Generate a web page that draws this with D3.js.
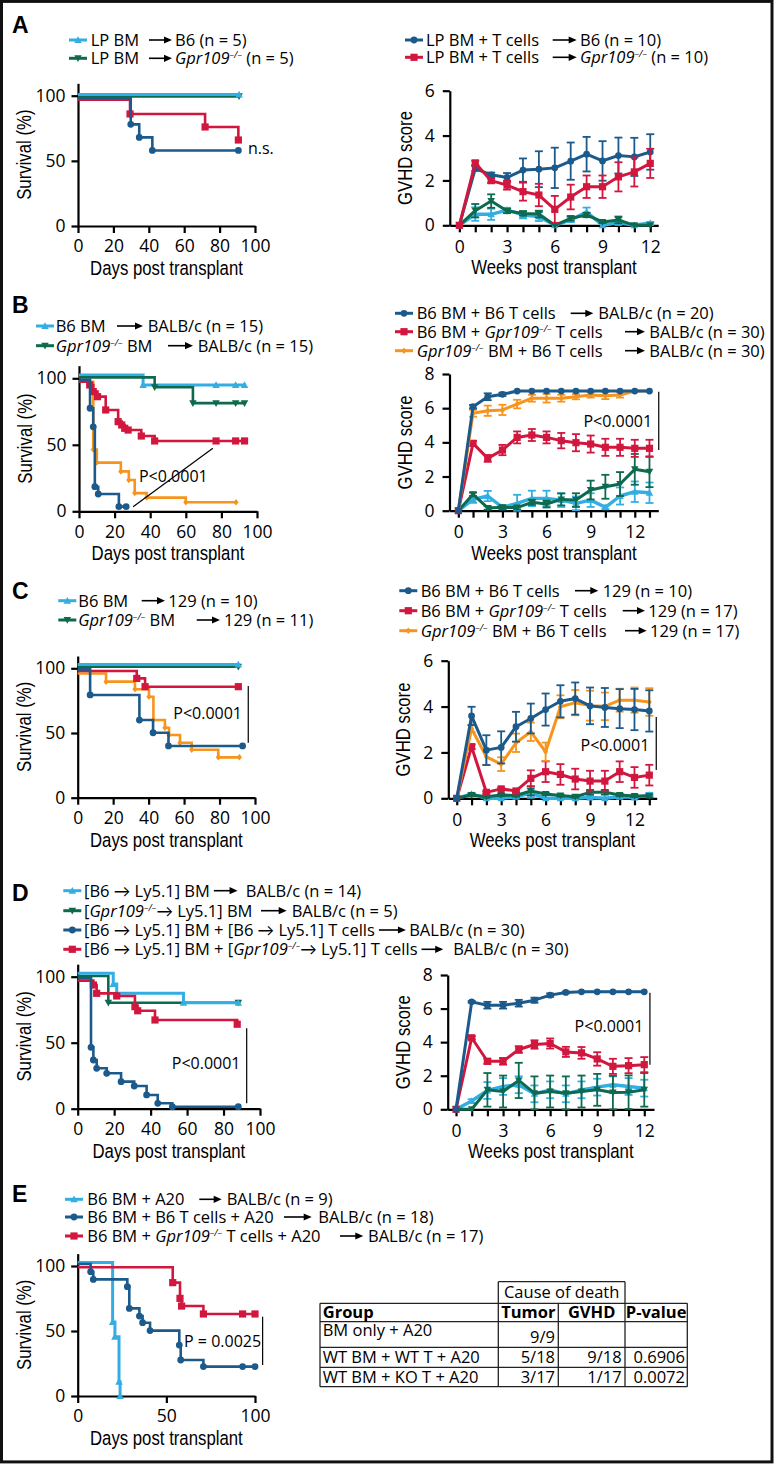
<!DOCTYPE html>
<html><head><meta charset="utf-8">
<script src="https://cdn.jsdelivr.net/npm/d3@7"></script>
<style>
html,body{margin:0;padding:0;background:#fff;}
</style></head><body>
<svg id="fig" width="778" height="1465"></svg>
<script>
// ---------------- DATA ----------------
// Kaplan-Meier curves: [day, survival %] step points (as drawn)
const A_km_lb = [[0,101],[91,101]];
const A_km_gr = [[0,99.5],[91,99.5]];
const A_km_bl = [[0,98],[29.8,78],[34.6,68],[42,58],[90.6,58]];
const A_km_rd = [[0,97],[29.4,86],[71.8,76],[90.6,66]];

const B_km_lb = [[0,102.5],[36,95],[77,95],[88,95],[93,95]];
const B_km_gr = [[0,100.7],[42.5,93.3],[64,81.3],[77,81.3],[88,81.3],[93,81.3]];
const B_km_rd = [[0,97.4],[6,95],[8,90],[10.4,86.2],[15,76.2],[22,67.4],[24,64.9],[25.7,62.4],[27.6,61.1],[35,56.6],[42.5,52.9],[77,52.9],[88,52.9],[93,52.9]];
const B_km_or = [[0,97.4],[8,46.5],[10,36.6],[23.5,30],[28,23.5],[31.3,13.7],[38,10.3],[60,6.8],[88.2,6.8]];
const B_km_bl = [[0,98.8],[6.2,77.5],[8,63.5],[8.9,18.5],[10.8,13],[22.4,3.5],[26.5,3.5]];

const C_km_lb = [[0,103],[90.6,103]];
const C_km_gr = [[0,101.2],[90.6,101.2]];
const C_km_rd = [[0,97.9],[33.3,92.2],[38,85.8],[90.6,85.8]];
const C_km_or = [[0,96],[16,89.7],[32.3,83.8],[40.2,78],[42.7,60],[49.2,54],[51.5,48.5],[57.7,42.5],[64.3,37],[79.3,31.2],[91.2,31.2]];
const C_km_bl = [[0,99.2],[7,79.4],[34.8,60],[42.5,50.2],[51.2,40],[93,40]];

const D_km_lb = [[0,102.6],[19.5,94.5],[21.4,87.4],[58,80.3],[88.1,80.3]];
const D_km_gr = [[0,100.5],[16.8,80.3],[88.1,80.3]];
const D_km_rd = [[0,97],[8.6,93.7],[10.4,87.4],[21.4,85.4],[31.4,77.3],[32.9,74.2],[42.4,67.2],[87.5,64]];
const D_km_bl = [[0,98.8],[7.3,46.5],[8.6,36.9],[10.4,30.6],[15.9,26.8],[23.8,20.5],[31,17.2],[37.8,10.4],[43.9,4.1],[51.9,1.5],[88.1,1.5]];

const E_km_lb = [[0,102.6],[19.7,57],[21,45.6],[23.3,11],[23.9,0]];
const E_km_bl = [[0,101.5],[7.3,95.6],[8.8,89.7],[28,84.1],[29.1,67.4],[34.8,61.5],[36.6,56.4],[40.8,50.3],[57.3,39.2],[58.1,27.7],[70.9,22.6],[93,22.6],[100,22.6]];
const E_km_rd = [[0,99],[53.6,87.2],[57.7,75.1],[58.6,69.2],[70.9,63.1],[93,63.1],[100,63.1]];

// GVHD score: weeks, mean and SEM per series
const weeks12 = [0,1,2,3,4,5,6,7,8,9,10,11,12];
const weeks13 = [0,1,2,3,4,5,6,7,8,9,10,11,12,13];

const A_g_bl_m = [0,2.53,2.25,2.13,2.46,2.5,2.56,2.86,3.17,2.87,3.11,3.05,3.27];
const A_g_bl_e = [0,0.1,0.1,0.2,0.52,0.8,0.9,0.83,0.77,0.88,0.8,0.85,0.79];
const A_g_rd_m = [0,2.78,1.99,1.79,1.5,1.35,0.71,1.26,1.72,1.72,2.16,2.38,2.76];
const A_g_rd_e = [0,0.1,0.1,0.2,0.4,0.5,0.6,0.55,0.5,0.5,0.65,0.65,0.65];
const A_g_gr_m = [0,0.65,1.08,0.64,0.53,0.5,0,0.31,0.46,0.15,0.24,0,0];
const A_g_gr_e = [0,0.3,0.3,0.1,0.1,0.15,0,0.1,0.1,0.05,0.15,0,0];
const A_g_lb_m = [0,0.5,0.49,0.68,0.46,0.39,0,0.24,0.59,0,0.12,0,0.1];
const A_g_lb_e = [0,0.3,0.25,0.1,0.15,0.2,0,0.1,0.2,0,0.1,0,0.05];

const B_g_bl_m = [0,6.09,6.67,6.81,7,7,7,7,7,7,7,7,7,7];
const B_g_bl_e = [0,0.1,0.2,0.1,0,0,0,0,0,0,0,0,0,0];
const B_g_or_m = [0,5.7,5.85,5.9,6.24,6.58,6.58,6.58,6.67,6.77,6.73,6.77,7,7];
const B_g_or_e = [0,0.2,0.3,0.3,0.25,0.2,0.25,0.2,0.15,0.15,0.2,0.15,0,0];
const B_g_rd_m = [0,3.94,3.06,3.55,4.29,4.43,4.29,4.1,3.98,3.9,3.71,3.71,3.65,3.65];
const B_g_rd_e = [0,0.15,0.2,0.3,0.35,0.35,0.35,0.45,0.5,0.5,0.5,0.5,0.5,0.5];
const B_g_gr_m = [0,0.96,0.16,0.2,0.18,0.49,0.39,0.66,0.62,1.21,1.4,1.56,2.42,2.28];
const B_g_gr_e = [0,0.1,0.1,0.1,0.1,0.15,0.2,0.35,0.4,0.55,0.7,0.7,0.9,0.9];
const B_g_lb_m = [0,0.66,0.86,0.2,0.43,0.72,0.72,0.62,0.43,0.62,0.2,0.86,1.11,1.05];
const B_g_lb_e = [0,0.2,0.3,0.1,0.5,0.45,0.45,0.4,0.4,0.4,0.1,0.5,0.6,0.6];

const C_g_bl_m = [0,3.59,2.1,2.22,3.12,3.48,3.87,4.23,4.35,4.03,3.96,3.91,3.87,3.81];
const C_g_bl_e = [0,0.4,0.65,0.7,0.65,0.65,0.7,0.7,0.7,0.8,0.85,0.85,0.9,0.9];
const C_g_or_m = [0,3.04,1.81,1.49,2.42,2.9,2.03,3.99,4.17,4.04,4.01,4.28,4.28,4.2];
const C_g_or_e = [0,0.15,0.35,0.3,0.4,0.4,0.4,0.5,0.55,0.65,0.6,0.5,0.55,0.6];
const C_g_rd_m = [0,2.25,0.26,0.41,0.32,0.87,1.16,1.04,0.84,0.75,0.75,1.16,0.91,1.01];
const C_g_rd_e = [0,0.1,0.05,0.05,0.05,0.35,0.45,0.45,0.45,0.45,0.45,0.45,0.45,0.45];
const C_g_gr_m = [0,0.14,0.07,0.14,0.12,0.32,0.19,0.12,0.07,0.26,0.26,0.14,0.1,0.1];
const C_g_gr_e = [0,0.05,0.05,0.05,0.05,0.2,0.05,0.05,0.05,0.1,0.1,0.05,0.05,0.05];
const C_g_lb_m = [0,0.19,0,0,0.07,0.22,0,0,0,0.04,0,0.07,0.04,0.14];
const C_g_lb_e = [0,0.05,0,0,0.05,0.2,0,0,0,0.05,0,0.05,0.05,0.1];

const D_g_bl_m = [0,6.4,6.2,6.2,6.32,6.5,6.8,6.96,7,7,7,7,7];
const D_g_bl_e = [0,0.05,0.2,0.2,0.2,0.15,0.1,0.05,0,0,0,0,0];
const D_g_rd_m = [0,4.26,2.86,2.86,3.56,3.86,3.92,3.42,3.36,3.0,2.56,2.6,2.66];
const D_g_rd_e = [0,0.1,0.15,0.2,0.2,0.25,0.3,0.3,0.35,0.4,0.45,0.45,0.45];
const D_g_gr_m = [0,0,1.16,1.06,1.72,0.96,1.06,0.96,1.06,1.16,1.0,1.02,1.16];
const D_g_gr_e = [0,0,1.0,0.95,1.05,1.0,0.95,1.0,0.95,0.95,1.0,1.0,1.0];
const D_g_lb_m = [0,0.5,1.12,1.36,1.46,0.92,1.16,0.92,1.16,1.32,1.46,1.36,1.26];
const D_g_lb_e = [0,0.1,0.5,0.5,0.5,0.5,0.5,0.5,0.5,0.5,0.5,0.5,0.5];

// tick labels
const kmXTicks = [0,20,40,60,80,100];
const kmXTicksE = [0,50,100];
const kmYTicks = [0,50,100];
const gvYTicks6 = [0,2,4,6];
const gvYTicks8 = [0,2,4,6,8];

// legend labels ({G} = italic Gpr109 with -/- superscript)
const legA1 = [["LP BM","B6 (n = 5)"],["LP BM","{G} (n = 5)"]];
const legA2 = [["LP BM + T cells","B6 (n = 10)"],["LP BM + T cells","{G} (n = 10)"]];
const legB1 = [["B6 BM","BALB/c (n = 15)"],["{G} BM","BALB/c (n = 15)"]];
const legB2 = [["B6 BM + B6 T cells","BALB/c (n = 20)"],["B6 BM + {G} T cells","BALB/c (n = 30)"],["{G} BM + B6 T cells","BALB/c (n = 30)"]];
const legC1 = [["B6 BM","129 (n = 10)"],["{G} BM","129 (n = 11)"]];
const legC2 = [["B6 BM + B6 T cells","129 (n = 10)"],["B6 BM + {G} T cells","129 (n = 17)"],["{G} BM + B6 T cells","129 (n = 17)"]];
const legD = [["[B6 \u2192 Ly5.1] BM","BALB/c (n = 14)"],["[{G}\u2192 Ly5.1] BM","BALB/c (n = 5)"],["[B6 \u2192 Ly5.1] BM + [B6 \u2192 Ly5.1] T cells","BALB/c (n = 30)"],["[B6 \u2192 Ly5.1] BM + [{G}\u2192 Ly5.1] T cells","BALB/c (n = 30)"]];
const legE = [["B6 BM + A20","BALB/c (n = 9)"],["B6 BM + B6 T cells + A20","BALB/c (n = 18)"],["B6 BM + {G} T cells + A20","BALB/c (n = 17)"]];

// table
const tblHeader = ["Group","Tumor","GVHD","P-value"];
const tblGroups = ["BM only + A20","WT BM + WT T + A20","WT BM + KO T + A20"];
const tblTumor = ["9/9","5/18","3/17"];
const tblGvhd = ["","9/18","1/17"];
const tblP = ["","0.6906","0.0072"];

// ---------------- STYLE ----------------
const FONT = "'Open Sans', Lato, sans-serif";
const TFONT = "'Liberation Sans', Arial, sans-serif";
const COL = {lb:"#33aee3", gr:"#0e6a4e", bl:"#1c5a8b", rd:"#d2173f", or:"#f7941d"};
const SYM = {lb:"tri", gr:"triDown", bl:"circle", rd:"square", or:"diamond"};
const svg = d3.select("#fig");

function symPath(kind, s){
  const h = s/2;
  switch(kind){
    case "circle": return d3.symbol(d3.symbolCircle, Math.PI*h*h)();
    case "square": return `M${-h},${-h}h${s}v${s}h${-s}Z`;
    case "tri": return `M0,${-h}L${h},${h*0.8}L${-h},${h*0.8}Z`;
    case "triDown": return `M0,${h}L${h},${-h*0.8}L${-h},${-h*0.8}Z`;
    case "diamond": return `M0,${-h}L${h*0.8},0L0,${h}L${-h*0.8},0Z`;
  }
}
const SYMSIZE = {circle:6.8, square:7.2, tri:7.5, triDown:7.5, diamond:6.5};

function rich(sel, str){
  if(str.indexOf("{G}")<0){ sel.text(str); return; }
  const parts = str.split("{G}");
  parts.forEach((p,i)=>{
    if(i>0){
      sel.append("tspan").attr("font-style","italic").text("Gpr109");
      sel.append("tspan").attr("font-style","italic").attr("font-size","9.5px").attr("dy",-6).text("\u2013/\u2013");
      if(p.length) sel.append("tspan").attr("dy",6).text(p);
    } else if(p.length){ sel.append("tspan").text(p); }
  });
}

function styleAxis(g, fs){
  g.attr("font-family",FONT).attr("font-size",fs);
  g.select(".domain").attr("stroke","#000").attr("stroke-width",2.2);
  g.selectAll(".tick line").attr("stroke","#000").attr("stroke-width",2.2);
  g.selectAll(".tick text").attr("fill","#000");
}

// condensed axis titles (horizontal squeeze of the face)
function titles(xMid, yBase, xText, yAxisX, yMid, yText, yOff){
  svg.append("text").attr("transform",`translate(${xMid},${yBase+49}) scale(0.86,1)`).attr("text-anchor","middle")
    .attr("font-family",TFONT).attr("font-size",19.5).text(xText);
  svg.append("text").attr("transform",`translate(${yAxisX-yOff},${yMid}) rotate(-90) scale(0.86,1)`).attr("text-anchor","middle")
    .attr("font-family",TFONT).attr("font-size",19.5).text(yText);
}

function km(cfg){
  const x = d3.scaleLinear().domain([0,100]).range([cfg.x0,cfg.x1]);
  const k = (cfg.yBase-cfg.y100)/100;
  const y = d3.scaleLinear().domain([0,109.5]).range([cfg.yBase,cfg.yBase-109.5*k]);
  const g = svg.append("g");
  const xa = g.append("g").attr("transform",`translate(0,${cfg.yBase})`)
    .call(d3.axisBottom(x).tickValues(cfg.xTicks).tickFormat(d3.format("d")).tickSize(7).tickPadding(7).tickSizeOuter(0));
  styleAxis(xa,17.5);
  const ya = g.append("g").attr("transform",`translate(${cfg.x0},0)`)
    .call(d3.axisLeft(y).tickValues(kmYTicks).tickFormat(d3.format("d")).tickSize(6.5).tickPadding(6).tickSizeOuter(0));
  styleAxis(ya,17.5);
  const line = d3.line().x(d=>x(d[0])).y(d=>y(d[1])).curve(d3.curveStepAfter);
  cfg.series.forEach(s=>{
    g.append("path").datum(s.d).attr("d",line).attr("fill","none")
      .attr("stroke",COL[s.k]).attr("stroke-width",s.k==="lb"?3:2.6);
    g.selectAll(null).data(s.d.slice(1)).join("path")
      .attr("transform",d=>`translate(${x(d[0])},${y(d[1])})`)
      .attr("d",symPath(SYM[s.k],SYMSIZE[SYM[s.k]])).attr("fill",COL[s.k]);
  });
  titles((cfg.x0+cfg.x1)/2, cfg.yBase, "Days post transplant", cfg.x0, (cfg.yBase+y(109.5))/2, "Survival (%)", 47);
  return {x,y,g};
}

function gv(cfg){
  const x = d3.scaleLinear().domain(cfg.xDom).range(cfg.xRange);
  const y = d3.scaleLinear().domain([0,cfg.yMax]).range([cfg.yBase,cfg.yTop]);
  const g = svg.append("g");
  const xa = g.append("g").attr("transform",`translate(0,${cfg.yBase})`)
    .call(d3.axisBottom(x).tickValues(cfg.weeks).tickFormat(d=>d%3===0?String(d):"").tickSize(7).tickPadding(8).tickSizeOuter(0));
  styleAxis(xa,17.5);
  xa.selectAll(".tick text").filter(d=>d%3!==0).remove();
  const ya = g.append("g").attr("transform",`translate(${cfg.xRange[0]},0)`)
    .call(d3.axisLeft(y).tickValues(cfg.yTicks).tickFormat(d3.format("d")).tickSize(7).tickPadding(8).tickSizeOuter(0));
  styleAxis(ya,17.5);
  const line = d3.line().x(d=>x(d.w)).y(d=>y(d.m));
  cfg.series.forEach(s=>{
    const c = COL[s.k];
    const pts = cfg.weeks.map((w,i)=>({w, m:s.m[i], e:s.e[i]}));
    const eb = g.append("g").attr("stroke",c).attr("stroke-width",1.8);
    pts.filter(p=>p.e>0).forEach(p=>{
      const lo = Math.max(0,p.m-p.e), hi = p.m+p.e;
      eb.append("line").attr("x1",x(p.w)).attr("x2",x(p.w)).attr("y1",y(lo)).attr("y2",y(hi));
      [lo,hi].forEach(v=>eb.append("line").attr("x1",x(p.w)-4).attr("x2",x(p.w)+4).attr("y1",y(v)).attr("y2",y(v)));
    });
    g.append("path").datum(pts).attr("d",line).attr("fill","none").attr("stroke",c)
      .attr("stroke-width",s.k==="lb"?3.4:3).attr("stroke-linejoin","round");
    g.selectAll(null).data(pts).join("path")
      .attr("transform",d=>`translate(${x(d.w)},${y(d.m)})`)
      .attr("d",symPath(SYM[s.k],SYMSIZE[SYM[s.k]])).attr("fill",c);
  });
  titles((cfg.xRange[0]+cfg.xRange[1])/2, cfg.yBase, "Weeks post transplant", cfg.xRange[0], (cfg.yBase+cfg.yTop)/2, "GVHD score", 38);
  return {x,y,g};
}

function arrow(x0,x1,y){
  svg.append("line").attr("x1",x0).attr("x2",x1-5).attr("y1",y).attr("y2",y).attr("stroke","#000").attr("stroke-width",1.6);
  svg.append("path").attr("d",`M${x1},${y}L${x1-8},${y-3.6}L${x1-8},${y+3.6}Z`).attr("fill","#000");
}

function legend(labels, keys, ys, mx, tx, arrows, rxs){
  labels.forEach((lab,i)=>{
    const y = ys[i], k = keys[i];
    svg.append("line").attr("x1",mx).attr("x2",mx+18).attr("y1",y).attr("y2",y).attr("stroke",COL[k]).attr("stroke-width",3);
    svg.append("path").attr("d",symPath(SYM[k],SYMSIZE[SYM[k]])).attr("transform",`translate(${mx+9},${y})`).attr("fill",COL[k]);
    const t = svg.append("text").attr("x",tx).attr("y",y).attr("dy","0.36em").attr("font-family",FONT).attr("font-size",16.5);
    rich(t, lab[0]);
    // keep the arrow clear of the text if the face runs longer than in the original
    const end = tx + t.node().getComputedTextLength();
    const shift = Math.max(0, end + 4 - arrows[i][0]);
    arrow(arrows[i][0]+shift, arrows[i][1]+shift, y);
    const t2 = svg.append("text").attr("x",rxs[i]+shift).attr("y",y).attr("dy","0.36em").attr("font-family",FONT).attr("font-size",16.5);
    rich(t2, lab[1]);
  });
}

function annot(ch, txt, tx, ty, anchor, line){
  svg.append("text").attr("x",ch.x(tx)).attr("y",ch.y(ty)).attr("dy","0.36em").attr("text-anchor",anchor)
    .attr("font-family",FONT).attr("font-size",16).text(txt);
  svg.append("line").attr("x1",ch.x(line[0])).attr("y1",ch.y(line[1])).attr("x2",ch.x(line[2])).attr("y2",ch.y(line[3]))
    .attr("stroke","#000").attr("stroke-width",1.2);
}

function panelLabel(t,x,y){
  svg.append("text").attr("x",x).attr("y",y).attr("font-family","'Liberation Sans',Arial,sans-serif")
    .attr("font-weight","bold").attr("font-size",23).text(t);
}

// ---------------- DRAW ----------------
svg.append("rect").attr("x",1.5).attr("y",1.4).attr("width",770.5).attr("height",1460.5)
  .attr("fill","none").attr("stroke","#111").attr("stroke-width",3);

// Panel A
panelLabel("A",12,33);
legend(legA1,["lb","gr"],[40,58.3],69,90.7,[[149,172],[149,172]],[175,175]);
legend(legA2,["bl","rd"],[40,57.3],405,426,[[552.7,576.7],[552.7,576.7]],[580,580]);
const kA = km({x0:78,x1:255,yBase:226,y100:95.7,xTicks:kmXTicks,series:[
  {k:"gr",d:A_km_gr},{k:"lb",d:A_km_lb},{k:"rd",d:A_km_rd},{k:"bl",d:A_km_bl}]});
svg.append("text").attr("x",kA.x(96)).attr("y",kA.y(59.6)).attr("dy","0.36em").attr("font-family",FONT).attr("font-size",16).text("n.s.");
gv({xDom:[-0.6,12.5],xRange:[449.8,658.2],yMax:6,yTicks:gvYTicks6,yBase:225.3,yTop:90.7,weeks:weeks12,series:[
  {k:"lb",m:A_g_lb_m,e:A_g_lb_e},{k:"gr",m:A_g_gr_m,e:A_g_gr_e},
  {k:"bl",m:A_g_bl_m,e:A_g_bl_e},{k:"rd",m:A_g_rd_m,e:A_g_rd_e}]});

// Panel B
panelLabel("B",12,313);
legend(legB1,["lb","gr"],[326,345.7],36,55.7,[[117,143],[168,193]],[147.7,197.7]);
legend(legB2,["bl","rd","or"],[313.3,331.7,350.7],395,416.7,[[570.7,593.3],[625,645],[625,645]],[598.3,649.3,649.3]);
const kB = km({x0:79,x1:257,yBase:511.3,y100:378.3,xTicks:kmXTicks,series:[
  {k:"lb",d:B_km_lb},{k:"gr",d:B_km_gr},{k:"or",d:B_km_or},{k:"rd",d:B_km_rd},{k:"bl",d:B_km_bl}]});
annot(kB,"P<0.0001",33.7,26,"start",[30.4,3.5,75.2,47.4]);
const gB = gv({xDom:[-0.6,13.6],xRange:[449.5,658.3],yMax:8,yTicks:gvYTicks8,yBase:510.7,yTop:374,weeks:weeks13,series:[
  {k:"lb",m:B_g_lb_m,e:B_g_lb_e},{k:"gr",m:B_g_gr_m,e:B_g_gr_e},{k:"rd",m:B_g_rd_m,e:B_g_rd_e},
  {k:"or",m:B_g_or_m,e:B_g_or_e},{k:"bl",m:B_g_bl_m,e:B_g_bl_e}]});
annot(gB,"P<0.0001",13.18,5.26,"end",[13.63,6.96,13.63,3.55]);

// Panel C
panelLabel("C",12,599);
legend(legC1,["lb","gr"],[600.7,620],58.3,78.3,[[141.7,165],[196.7,220]],[168.3,224]);
legend(legC2,["bl","rd","or"],[590.7,610.7,630.7],399.3,420.7,[[575,598.3],[622.7,645],[625,646.7]],[602.7,648.3,650]);
const kC = km({x0:77.7,x1:255,yBase:797.7,y100:668.3,xTicks:kmXTicks,series:[
  {k:"gr",d:C_km_gr},{k:"lb",d:C_km_lb},{k:"or",d:C_km_or},{k:"rd",d:C_km_rd},{k:"bl",d:C_km_bl}]});
annot(kC,"P<0.0001",53.9,65.2,"start",[96.2,86.3,96.2,42.5]);
const gC = gv({xDom:[-0.57,13.5],xRange:[448.3,656.7],yMax:6,yTicks:gvYTicks6,yBase:798.3,yTop:660.7,weeks:weeks13,series:[
  {k:"lb",m:C_g_lb_m,e:C_g_lb_e},{k:"gr",m:C_g_gr_m,e:C_g_gr_e},{k:"rd",m:C_g_rd_m,e:C_g_rd_e},
  {k:"or",m:C_g_or_m,e:C_g_or_e},{k:"bl",m:C_g_bl_m,e:C_g_bl_e}]});
annot(gC,"P<0.0001",13.0,2.32,"end",[13.47,3.55,13.47,1.23]);

// Panel D
panelLabel("D",12,901);
legend(legD,["lb","gr","bl","rd"],[890.7,910.7,930,949.3],63.3,84,[[213,236.7],[261,286.7],[373,400],[420,441.7]],[245,291.7,403.3,451.7]);
const kD = km({x0:77.7,x1:260,yBase:1108.7,y100:976.7,xTicks:kmXTicks,series:[
  {k:"gr",d:D_km_gr},{k:"lb",d:D_km_lb},{k:"rd",d:D_km_rd},{k:"bl",d:D_km_bl}]});
annot(kD,"P<0.0001",51.6,34.4,"start",[92.7,60.9,92.7,4.1]);
const gD = gv({xDom:[-0.53,12.62],xRange:[447.7,654],yMax:8,yTicks:gvYTicks8,yBase:1109.3,yTop:975,weeks:weeks12,series:[
  {k:"lb",m:D_g_lb_m,e:D_g_lb_e},{k:"gr",m:D_g_gr_m,e:D_g_gr_e},{k:"rd",m:D_g_rd_m,e:D_g_rd_e},
  {k:"bl",m:D_g_bl_m,e:D_g_bl_e}]});
annot(gD,"P<0.0001",11.94,4.95,"end",[12.36,6.95,12.36,2.65]);

// Panel E
panelLabel("E",12,1202);
legend(legE,["lb","bl","rd"],[1199.3,1217,1236],65,87.3,[[199.3,221.7],[284,311.7],[340,363.3]],[226.7,318.3,368]);
const kE = km({x0:77.7,x1:255,yBase:1396,y100:1266,xTicks:kmXTicksE,series:[
  {k:"lb",d:E_km_lb},{k:"rd",d:E_km_rd},{k:"bl",d:E_km_bl}]});
annot(kE,"P = 0.0025",60,41.8,"start",[104.3,61,104.3,23.8]);

// Table
(function(){
  const T = svg.append("g").attr("font-family",FONT).attr("font-size",16.5);
  const L = (x1,y1,x2,y2)=>T.append("line").attr("x1",x1).attr("y1",y1).attr("x2",x2).attr("y2",y2).attr("stroke","#222").attr("stroke-width",1.3);
  const xl=320, xr=687.3, c1=498.3, c2=558.3, c3=625, yt=1303.3, yb=1386.7, yc=1281.7;
  L(xl,yt,xr,yt); L(xl,yb,xr,yb); L(xl,yt,xl,yb); L(xr,yt,xr,yb);
  L(c1,yc,c3,yc); L(c1,yc,c1,yb); L(c3,yc,c3,yb); L(c2,yt,c2,yb);
  L(xl,1321.7,xr,1321.7); L(xl,1347.3,xr,1347.3); L(xl,1367.3,xr,1367.3);
  T.append("text").attr("x",(c1+c3)/2).attr("y",1298.3).attr("text-anchor","middle").text("Cause of death");
  const hdr = [[xl+2.7,"start"],[(c1+c2)/2,"middle"],[(c2+c3)/2,"middle"],[(c3+xr)/2,"middle"]];
  tblHeader.forEach((h,i)=>T.append("text").attr("x",hdr[i][0]).attr("y",1318.3).attr("text-anchor",hdr[i][1]).attr("font-weight","bold").text(h));
  const rowY = [1336,1363.3,1383.3], numY = [1342.5,1363.3,1383.3];
  tblGroups.forEach((s,i)=>{
    T.append("text").attr("x",xl+2.7).attr("y",rowY[i]).text(s);
    T.append("text").attr("x",555).attr("y",numY[i]).attr("text-anchor","end").text(tblTumor[i]);
    if(tblGvhd[i]) T.append("text").attr("x",621.7).attr("y",numY[i]).attr("text-anchor","end").text(tblGvhd[i]);
    if(tblP[i]) T.append("text").attr("x",685).attr("y",numY[i]).attr("text-anchor","end").text(tblP[i]);
  });
})();
</script></body></html>
